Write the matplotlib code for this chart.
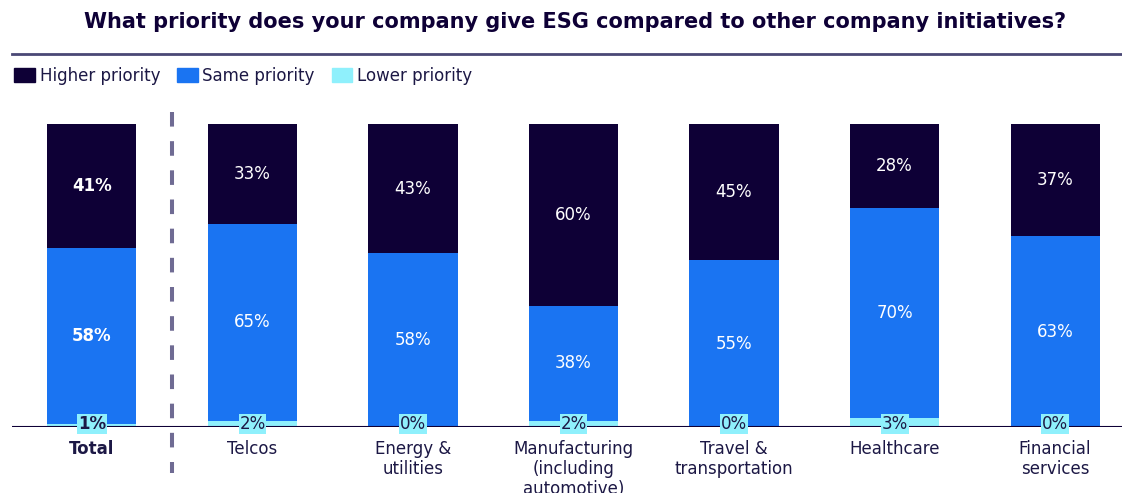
import matplotlib.pyplot as plt
from matplotlib.patches import Patch

# survey results, % of respondents
categories = ["Total", "Telcos", "Energy &\nutilities", "Manufacturing\n(including\nautomotive)",
              "Travel &\ntransportation", "Healthcare", "Financial\nservices"]
higher = [41, 33, 43, 60, 45, 28, 37]
same = [58, 65, 58, 38, 55, 70, 63]
lower = [1, 2, 0, 2, 0, 3, 0]

dark = "#0e0036"
blue = "#1a74f2"
cyan = "#8ff0fc"
text_col = "#1c1845"

plt.rcParams['font.family'] = ['DejaVu Sans']
plt.rcParams['lines.scale_dashes'] = False

fig = plt.figure(figsize=(11.22, 4.93), dpi=100)
ax = fig.add_axes([12 / 1122, 66 / 493, 1110 / 1122, 303 / 493])

x = list(range(len(categories)))
# scale each stack to 100 so the bars line up at the top
tot = [h + s + l for h, s, l in zip(higher, same, lower)]
low_h = [l * 100 / t for l, t in zip(lower, tot)]
same_h = [s * 100 / t for s, t in zip(same, tot)]
high_h = [h * 100 / t for h, t in zip(higher, tot)]
w = 0.555

ax.bar(x, low_h, width=w, color=cyan, zorder=2)
ax.bar(x, same_h, width=w, bottom=low_h, color=blue, zorder=2)
ax.bar(x, high_h, width=w, bottom=[a + b for a, b in zip(low_h, same_h)], color=dark, zorder=2)

for i in x:
    wt = "bold" if i == 0 else "normal"
    ax.text(i, low_h[i] + same_h[i] / 2, f"{same[i]}%", ha="center", va="center",
            color="white", fontsize=12, fontweight=wt, zorder=4)
    ax.text(i, low_h[i] + same_h[i] + high_h[i] / 2, f"{higher[i]}%", ha="center", va="center",
            color="white", fontsize=12, fontweight=wt, zorder=4)
    ax.text(i, 1.0, f"{lower[i]}%", ha="center", va="center", color=text_col,
            fontsize=12, fontweight=wt, zorder=5,
            bbox=dict(boxstyle="square,pad=0.05", fc=cyan, ec="none"))

ax.set_xlim(-0.498, 6.417)
ax.set_ylim(0, 100)
ax.axhline(0, color=dark, lw=1.5, zorder=3)

# separator between total and the sectors, dashes start at the top
ax.plot([0.5, 0.5], [104, -15.2], color="#6f6b93", lw=2.9, ls=(0, (10.5, 10.5)),
        dash_capstyle="butt", clip_on=False, zorder=1)

for s in ax.spines.values():
    s.set_visible(False)
ax.set_yticks([])
ax.set_xticks(x)
ax.set_xticklabels(categories, fontsize=12, color=text_col, linespacing=1.15, va="top")
ax.tick_params(axis="x", length=0, pad=9)
ax.get_xticklabels()[0].set_fontweight("bold")

fig.text(575 / 1122, 1 - 22 / 493, "What priority does your company give ESG compared to other company initiatives?",
         ha="center", va="center", fontsize=15, fontweight="bold", color=dark)
fig.add_artist(plt.Line2D([12 / 1122, 1], [1 - 54 / 493, 1 - 54 / 493], color="#4a4875", lw=2))

handles = [Patch(color=dark, label="Higher priority"),
           Patch(color=blue, label="Same priority"),
           Patch(color=cyan, label="Lower priority")]
leg = fig.legend(handles=handles, loc="center left", bbox_to_anchor=(7 / 1122, 1 - 76 / 493),
                 ncol=3, frameon=False, fontsize=12, handlelength=1.25, handleheight=0.9,
                 handletextpad=0.3, columnspacing=1.0, borderaxespad=0)
for t in leg.get_texts():
    t.set_color(text_col)

fig.savefig("out.png", dpi=100)
